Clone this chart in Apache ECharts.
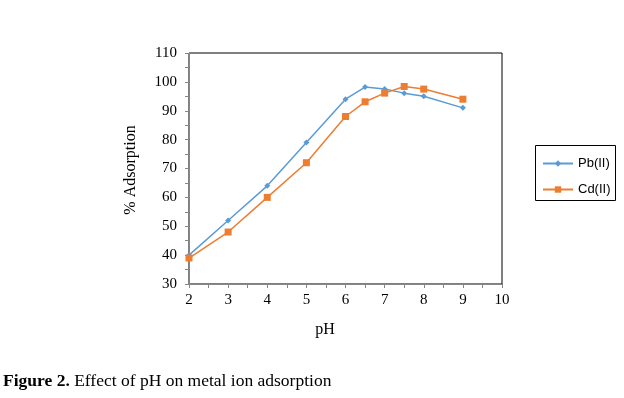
<!DOCTYPE html>
<html>
<head>
<meta charset="utf-8">
<script src="https://cdn.jsdelivr.net/npm/echarts@6/dist/echarts.min.js"></script>
<style>
html,body{margin:0;padding:0;background:#fff;}
#c{width:624px;height:398px;}
</style>
</head>
<body>
<div id="c"></div>
<script>
var phValues = [2, 3, 4, 5, 6, 6.5, 7, 7.5, 8, 9];
var pbValues = [40, 52, 64, 79, 94, 98.2, 97.5, 96.1, 95, 91];
var cdValues = [39, 48, 60, 72, 88, 93.1, 96.1, 98.4, 97.5, 94];
var seriesNames = ['Pb(II)', 'Cd(II)'];
var xTitle = 'pH';
var yTitle = '% Adsorption';
var captionBold = 'Figure 2.';
var captionRest = ' Effect of pH on metal ion adsorption';

function pairs(xs, ys){ return xs.map(function(x,i){ return [x, ys[i]]; }); }

var chart = echarts.init(document.getElementById('c'), null, {renderer:'canvas'});
var serif = '"Liberation Serif", "Times New Roman", serif';
var sans = '"Liberation Sans", "DejaVu Sans", sans-serif';
chart.setOption({
  animation: false,
  backgroundColor: '#ffffff',
  grid: {left: 189, right: 122, top: 53, bottom: 114, show: true, borderColor: '#000', borderWidth: 1, backgroundColor: 'transparent'},
  xAxis: {
    type: 'value', min: 2, max: 10, interval: 1,
    axisLine: {lineStyle: {color: '#868686', width: 1}},
    axisTick: {inside: false, length: 4, lineStyle: {color: '#868686'}},
    minorTick: {show: true, splitNumber: 2, length: 4, lineStyle: {color: '#868686'}},
    splitLine: {show: false},
    axisLabel: {color: '#000', fontFamily: serif, fontSize: 15, margin: 9}
  },
  yAxis: {
    type: 'value', min: 30, max: 110, interval: 10,
    axisLine: {show: true, lineStyle: {color: '#868686', width: 1}},
    axisTick: {show: true, inside: false, length: 4, lineStyle: {color: '#868686'}},
    minorTick: {show: true, splitNumber: 2, length: 4, lineStyle: {color: '#868686'}},
    splitLine: {show: false},
    axisLabel: {color: '#000', fontFamily: serif, fontSize: 15, margin: 12}
  },
  legend: {
    orient: 'vertical', left: 537, top: 152, itemWidth: 30, itemHeight: 8, itemGap: 13,
    textStyle: {fontFamily: sans, fontSize: 13, color: '#000'},
    data: seriesNames
  },
  series: [
    {name: seriesNames[0], type: 'line', data: pairs(phValues, pbValues), symbol: 'diamond', symbolSize: 6,
     itemStyle: {color: '#5B9BD5'}, lineStyle: {color: '#5B9BD5', width: 1.5}},
    {name: seriesNames[1], type: 'line', data: pairs(phValues, cdValues), symbol: 'rect', symbolSize: 7,
     itemStyle: {color: '#ED7D31'}, lineStyle: {color: '#ED7D31', width: 1.5}}
  ],
  graphic: [
    {type: 'rect', shape: {x: 535.5, y: 145.5, width: 80, height: 55}, style: {fill: 'none', stroke: '#000', lineWidth: 1}, silent: true},
    {type: 'text', x: 131, y: 170, rotation: Math.PI/2, style: {text: yTitle, font: '16px ' + serif, fill: '#000', textAlign: 'center', textVerticalAlign: 'middle'}},
    {type: 'text', x: 325, y: 330, style: {text: xTitle, font: '16px ' + serif, fill: '#000', textAlign: 'center', textVerticalAlign: 'middle'}},
    {type: 'text', x: 3, y: 381, style: {
      text: '{b|' + captionBold + '}{r|' + captionRest + '}',
      textVerticalAlign: 'middle',
      rich: {
        b: {fontFamily: serif, fontSize: 17.5, fontWeight: 'bold', fill: '#000', color: '#000'},
        r: {fontFamily: serif, fontSize: 17.5, fill: '#000', color: '#000'}
      }
    }}
  ]
});
</script>
</body>
</html>
